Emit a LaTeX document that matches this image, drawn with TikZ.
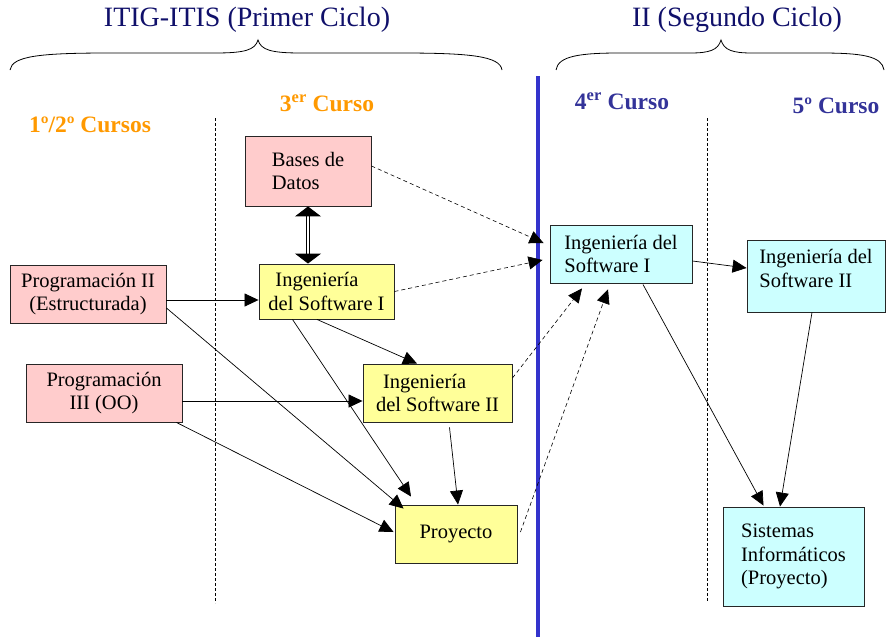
\documentclass[tikz,border=0pt]{standalone}
\usepackage{fontspec}
\setmainfont{Liberation Serif}
\usetikzlibrary{arrows.meta,calc}
\definecolor{pinkbox}{HTML}{FFCCCC}
\definecolor{yellowbox}{HTML}{FFFF99}
\definecolor{cyanbox}{HTML}{CCFFFF}
\definecolor{orangehead}{HTML}{FF9900}
\definecolor{bluehead}{HTML}{333399}
\definecolor{navy}{HTML}{10106A}
\definecolor{divider}{HTML}{3333CC}
\begin{document}
\begin{tikzpicture}[x=1pt,y=-1pt,
  box/.style={draw=black!85,line width=0.9pt,inner sep=0pt,
    font=\fontsize{20.5}{23.5}\selectfont},
  pinkb/.style={box,fill=pinkbox},
  yellowb/.style={box,fill=yellowbox},
  cyanb/.style={box,fill=cyanbox},
  arr/.style={-{Triangle[length=14pt,width=13pt]},line width=0.7pt},
  darr/.style={-{Triangle[length=14pt,width=13pt]},line width=0.6pt,
    dash pattern=on 4pt off 3pt},
  colsep/.style={line width=0.8pt,dash pattern=on 3pt off 2pt},
  cycle title/.style={text=navy,font=\fontsize{28}{30}\selectfont},
  course/.style={font=\bfseries\fontsize{23.5}{26}\selectfont},
  brace/.style={line width=0.8pt}
]
\useasboundingbox (0,0) rectangle (886,637);

% cycle titles and braces
\node[cycle title] (t1) at (247,20) {ITIG-ITIS (Primer Ciclo)};
\node[cycle title] (t2) at (737,20) {II (Segundo Ciclo)};
\draw[brace] (10,70) .. controls (12,56) and (40,53) .. (110,53) -- (215,53)
  .. controls (245,53) and (255,50) .. (258,40)
  .. controls (261,50) and (271,53) .. (301,53) -- (400,53)
  .. controls (470,53) and (500,56) .. (502,70);
\draw[brace] (556,70) .. controls (558,56) and (580,53) .. (620,53) -- (690,53)
  .. controls (710,53) and (718,50) .. (721,40)
  .. controls (724,50) and (732,53) .. (752,53) -- (820,53)
  .. controls (862,53) and (882,56) .. (884,70);

% course headings
\node[course,text=orangehead] (h12) at (90,125) {1º/2º Cursos};
\node[course,text=orangehead] (h3) at (327,103) {3\textsuperscript{er} Curso};
\node[course,text=bluehead] (h4) at (622,101) {4\textsuperscript{er} Curso};
\node[course,text=bluehead] (h5) at (836,106) {5º Curso};

% column separators
\coordinate (s1t) at (215,118); \coordinate (s1b) at (215,603);
\coordinate (s2t) at (707,118); \coordinate (s2b) at (707,602);
\coordinate (bt) at (538,76);   \coordinate (bb) at (538,637);
\draw[colsep] (s1t) -- (s1b);
\draw[colsep] (s2t) -- (s2b);
\draw[divider,line width=4.5pt] (bt) -- (bb);

% subjects
\node[pinkb,minimum width=126pt,minimum height=70pt,align=left] (bd) at (308,171)
  {Bases de\\Datos};
\node[pinkb,minimum width=156pt,minimum height=58pt,align=center] (p2) at (88,294)
  {Programación II\\(Estructurada)};
\node[pinkb,minimum width=156pt,minimum height=58pt,align=center] (p3) at (104,393)
  {Programación\\III (OO)};
\node[yellowb,minimum width=135pt,minimum height=55pt,align=left] (is1) at (326.5,291.5)
  {\hspace{7pt}Ingeniería\\del Software I};
\node[yellowb,minimum width=149pt,minimum height=58pt,align=left] (is2) at (437.5,393)
  {\hspace{7pt}Ingeniería\\del Software II};
\node[yellowb,minimum width=122pt,minimum height=58pt] (py) at (456,534) {Proyecto};
\node[cyanb,minimum width=142pt,minimum height=58pt,align=left] (c1) at (621,254)
  {Ingeniería del\\Software I};
\node[cyanb,minimum width=138pt,minimum height=72pt,align=left] (c2) at (816,276)
  {Ingeniería del\\Software II\\[-8pt]\mbox{}};
\node[cyanb,minimum width=141pt,minimum height=99pt,align=left] (si) at (793.5,556.5)
  {Sistemas\\Informáticos\\(Proyecto)};

% first-cycle dependencies
\draw[double,double distance=2pt,line width=1pt,
  {Triangle[length=10pt,width=26pt]}-{Triangle[length=10pt,width=26pt]}]
  (bd.south) -- (bd.south |- is1.north);
\draw[arr] ($(p2.east)+(0,6)$) -- ($(is1.west)+(0,8.5)$);
\draw[arr] ($(p2.east)+(0,14)$) -- ($(py.north west)+(9,4)$);
\draw[arr] ($(is1.south)+(-34,0)$) -- ($(py.north)+(-45,-8)$);
\draw[arr] ($(is1.south)+(-9.5,0)$) -- ($(is2.north)+(-20.5,0)$);
\draw[arr] ($(p3.east)+(0,8)$) -- ($(is2.west)+(0,8)$);
\draw[arr] ($(p3.south east)+(-6,0)$) -- ($(py.west)+(-1,-2)$);
\draw[arr] ($(is2.south)+(12,5)$) -- ($(py.north)+(2,0)$);

% links into the second cycle
\draw[darr] ($(bd.east)+(0,-5)$) -- ($(c1.west)+(-6,-11)$);
\draw[darr] (is1.east) -- ($(c1.west)+(-7,6)$);
\draw[darr] ($(is2.east)+(0,-15)$) -- ($(c1.south)+(-39,5)$);
\draw[darr] ($(py.east)+(3,-2)$) -- ($(c1.south)+(-13,6)$);

% second-cycle dependencies
\draw[arr] ($(c1.east)+(0,7)$) -- ($(c2.west)+(0,-8)$);
\draw[arr] ($(c1.south)+(22,1)$) -- ($(si.north)+(-30,-1)$);
\draw[arr] ($(c2.south)+(-4,0)$) -- ($(si.north)+(-13.5,0)$);
\end{tikzpicture}
\end{document}
